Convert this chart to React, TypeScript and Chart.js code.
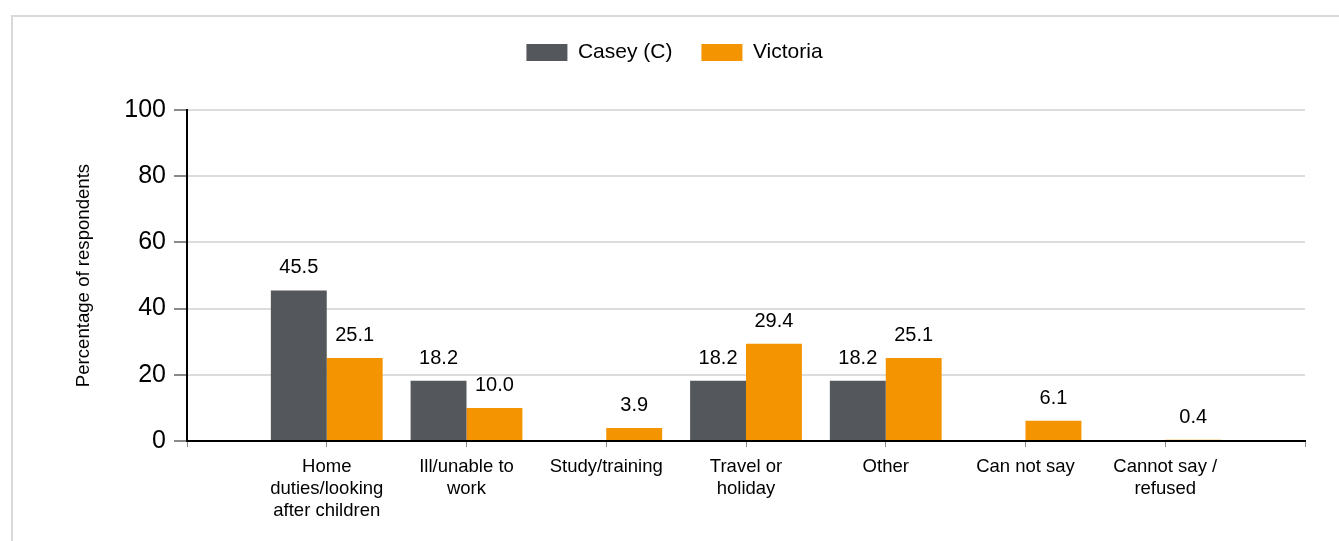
import React, { useEffect, useRef } from "react";
import { Chart, registerables } from "chart.js";

Chart.register(...registerables);

const categories: (string | string[])[] = [
  "",
  ["Home", "duties/looking", "after children"],
  ["Ill/unable to", "work"],
  "Study/training",
  ["Travel or", "holiday"],
  "Other",
  "Can not say",
  ["Cannot say /", "refused"],
  "",
];
const caseyValues: (number | null)[] = [null, 45.5, 18.2, null, 18.2, 18.2, null, null, null];
const victoriaValues: (number | null)[] = [null, 25.1, 10.0, 3.9, 29.4, 25.1, 6.1, 0.4, null];
const seriesNames = ["Casey (C)", "Victoria"];
const seriesColors = ["#54575b", "#f39400"];
const yTickValues = [0, 20, 40, 60, 80, 100];
const yAxisTitle = "Percentage of respondents";

const FONT = '"Liberation Sans", Arial, Helvetica, sans-serif';

const valueLabels = {
  id: "valueLabels",
  afterDatasetsDraw(chart: any) {
    const ctx = chart.ctx;
    ctx.save();
    ctx.font = `20px ${FONT}`;
    ctx.fillStyle = "#000";
    ctx.textAlign = "center";
    ctx.textBaseline = "alphabetic";
    chart.data.datasets.forEach((ds: any, i: number) => {
      const meta = chart.getDatasetMeta(i);
      meta.data.forEach((el: any, j: number) => {
        const v = ds.data[j];
        if (v == null) return;
        ctx.fillText(Number(v).toFixed(1), el.x, el.y - 17);
      });
    });
    ctx.restore();
  },
};

const legendSpacing = {
  id: "legendSpacing",
  afterInit(chart: any) {
    const legend = chart.legend;
    if (!legend) return;
    const origFit = legend.fit;
    legend.fit = function () {
      origFit.call(this);
      this.height += 37;
      if (this.lineWidths && this.lineWidths.length) {
        this.lineWidths[0] -= 36;
      }
    };
  },
};

export default function App() {
  const ref = useRef<HTMLCanvasElement | null>(null);

  useEffect(() => {
    if (!ref.current) return;
    Chart.defaults.font.family = FONT;
    const chart = new Chart(ref.current, {
      type: "bar",
      data: {
        labels: categories as any,
        datasets: [
          {
            label: seriesNames[0],
            data: caseyValues,
            backgroundColor: seriesColors[0],
            borderWidth: 0,
            categoryPercentage: 0.8,
            barPercentage: 1.0,
          },
          {
            label: seriesNames[1],
            data: victoriaValues,
            backgroundColor: seriesColors[1],
            borderWidth: 0,
            categoryPercentage: 0.8,
            barPercentage: 1.0,
          },
        ],
      },
      options: {
        animation: false,
        responsive: true,
        maintainAspectRatio: false,
        devicePixelRatio: 1,
        layout: { padding: { left: 0, right: 26, top: 5, bottom: 0 } },
        plugins: {
          tooltip: { enabled: false },
          legend: {
            position: "top",
            labels: {
              boxWidth: 41,
              boxHeight: 17,
              padding: 29,
              color: "#000",
              font: { size: 21, family: FONT },
            },
          },
        },
        scales: {
          x: {
            offset: false,
            border: { display: true, color: "#000", width: 2 },
            grid: {
              drawOnChartArea: false,
              drawTicks: true,
              tickLength: 6,
              tickColor: "#8a8a8a",
              offset: false,
            },
            ticks: {
              color: "#000",
              font: { size: 18.5, family: FONT, lineHeight: 1.19 },
              padding: 9,
              maxRotation: 0,
              minRotation: 0,
              autoSkip: false,
            },
            afterFit: (scale: any) => {
              scale.height = 92;
            },
          },
          y: {
            min: 0,
            max: 100,
            border: { display: true, color: "#000", width: 2 },
            grid: {
              color: "#dcdcdc",
              lineWidth: 2,
              tickLength: 13,
              tickColor: "#8a8a8a",
            },
            afterBuildTicks: (scale: any) => {
              scale.ticks = yTickValues.map((v) => ({ value: v }));
            },
            ticks: {
              color: "#000",
              font: { size: 25, family: FONT },
              padding: 8,
            },
            title: {
              display: true,
              text: yAxisTitle,
              color: "#000",
              font: { size: 18.6, family: FONT },
              padding: { top: 65, bottom: 0 },
            },
            afterFit: (scale: any) => {
              scale.width = 179;
            },
          },
        },
      },
      plugins: [legendSpacing, valueLabels],
    } as any);
    return () => chart.destroy();
  }, []);

  return (
    <>
      <div
        style={{
          position: "fixed",
          left: 11,
          top: 15,
          width: 1400,
          height: 600,
          border: "2px solid #d9d9d9",
          pointerEvents: "none",
          boxSizing: "border-box",
        }}
      />
      <div style={{ position: "relative", width: 1323, height: 525 }}>
        <canvas ref={ref} />
      </div>
    </>
  );
}
